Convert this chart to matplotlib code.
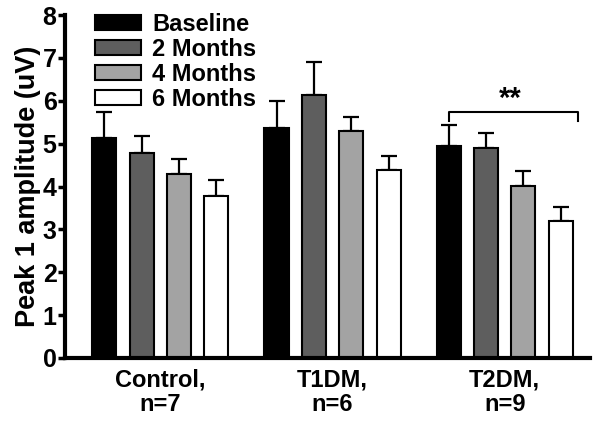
import numpy as np
import matplotlib
matplotlib.use("Agg")
import matplotlib.pyplot as plt
from matplotlib.patches import Patch

plt.rcParams["font.family"] = ["Liberation Sans", "DejaVu Sans"]
plt.rcParams["font.weight"] = "bold"

groups = ["Control,\nn=7", "T1DM,\nn=6", "T2DM,\nn=9"]
series = ["Baseline", "2 Months", "4 Months", "6 Months"]
colors = ["#000000", "#5e5e5e", "#a3a3a3", "#ffffff"]

# mean values and SEM (upper only)
baseline = [5.13, 5.37, 4.94]
month2 = [4.78, 6.13, 4.90]
month4 = [4.29, 5.30, 4.01]
month6 = [3.78, 4.38, 3.20]
baseline_err = [0.62, 0.63, 0.49]
month2_err = [0.40, 0.77, 0.35]
month4_err = [0.35, 0.32, 0.35]
month6_err = [0.37, 0.33, 0.32]

means = [baseline, month2, month4, month6]
errs = [baseline_err, month2_err, month4_err, month6_err]

fig = plt.figure(figsize=(6.01, 4.21), dpi=100)
ax = fig.add_axes([0.108, 0.150, 0.874, 0.814])

x = np.arange(len(groups))
step = 0.217
width = 0.14
for i, (m, e) in enumerate(zip(means, errs)):
    pos = x + (i - 1.5) * step
    ax.bar(pos, m, width, color=colors[i], edgecolor="black", linewidth=1.5, zorder=2)
    ax.errorbar(pos, m, yerr=[np.zeros(len(e)), e], fmt="none", ecolor="black",
                elinewidth=1.6, capsize=5.5, capthick=1.6, zorder=1)

# significance bracket on T2DM
xl = x[2] - 1.5 * step
xr = x[2] + 1.5 * step + 0.1
ax.plot([xl, xl, xr, xr], [5.53, 5.74, 5.74, 5.53], color="black", lw=1.5)
ax.text((xl + xr) / 2 - 0.02, 5.72, "**", ha="center", va="bottom", fontsize=21, fontweight="bold")

ax.set_xlim(-0.555, 2.497)
ax.set_ylim(0, 8)
ax.set_yticks(range(0, 9))
ax.set_xticks(x)
ax.set_xticklabels(groups, fontsize=17, fontweight="bold", linespacing=1.05)
ax.tick_params(axis="y", labelsize=18, width=2.5, length=5, pad=1)
ax.tick_params(axis="x", length=0, pad=8)
ax.set_ylabel("Peak 1 amplitude (uV)", fontsize=19.5, fontweight="bold", labelpad=1)

for s in ["top", "right"]:
    ax.spines[s].set_visible(False)
for s in ["left", "bottom"]:
    ax.spines[s].set_linewidth(3)

handles = [Patch(facecolor=c, edgecolor="black", linewidth=1.5) for c in colors]
ax.legend(handles, series, loc="upper left", bbox_to_anchor=(0.04, 1.035), frameon=False,
          fontsize=17, handlelength=1.95, handleheight=0.6, labelspacing=0.09,
          handletextpad=0.45, borderaxespad=0)

fig.savefig("out.png", dpi=100)
